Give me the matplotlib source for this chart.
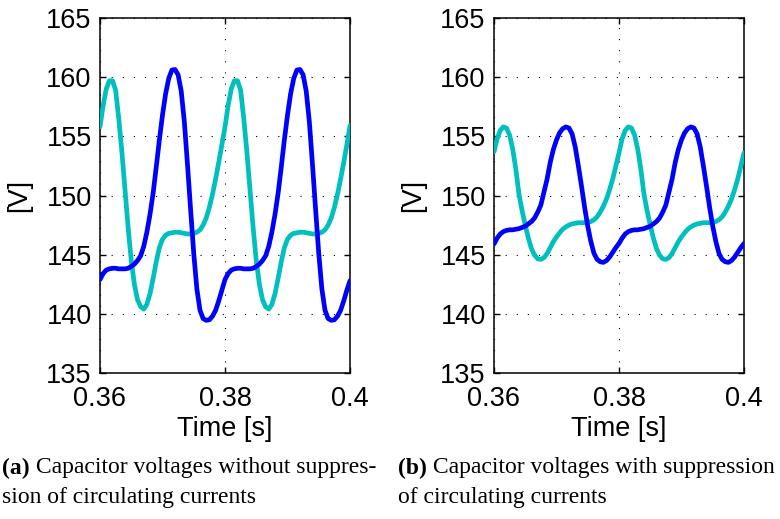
import numpy as np
import matplotlib
matplotlib.use("Agg")
import matplotlib.pyplot as plt

# time axis (s), sampled every 0.5 ms
time_s = [round(0.36 + 0.0005 * i, 4) for i in range(81)]

# (a) without suppression of circulating currents
va_cyan = [155.8, 157.6, 159.0, 159.7, 159.7, 158.9, 156.5, 153.7, 150.5, 147.3,
           144.5, 142.5, 141.2, 140.6, 140.4, 140.8, 141.7, 143.0, 144.4, 145.6,
           146.3, 146.65, 146.8, 146.85, 146.9, 146.9, 146.85, 146.8, 146.75, 146.75,
           146.8, 146.9, 147.1, 147.5, 148.1, 149.0, 150.1, 151.4, 152.8, 154.3,
           155.8, 157.6, 159.0, 159.7, 159.7, 158.9, 156.5, 153.7, 150.5, 147.3,
           144.5, 142.5, 141.2, 140.6, 140.4, 140.8, 141.7, 143.0, 144.4, 145.6,
           146.3, 146.65, 146.8, 146.85, 146.9, 146.9, 146.85, 146.8, 146.75, 146.75,
           146.8, 146.9, 147.1, 147.5, 148.1, 149.0, 150.1, 151.4, 152.8, 154.3,
           155.9]
va_blue = [142.9, 143.4, 143.7, 143.8, 143.85, 143.85, 143.8, 143.8, 143.8, 143.85,
           144.0, 144.2, 144.5, 144.9, 145.7, 146.9, 148.4, 150.2, 152.4, 154.7,
           156.8, 158.6, 159.9, 160.6, 160.65, 160.2, 158.8, 156.2, 152.6, 148.8,
           145.1, 142.1, 140.3, 139.6, 139.45, 139.5, 139.8, 140.3, 141.1, 142.0,
           142.9, 143.4, 143.7, 143.8, 143.85, 143.85, 143.8, 143.8, 143.8, 143.85,
           144.0, 144.2, 144.5, 144.9, 145.7, 146.9, 148.4, 150.2, 152.4, 154.7,
           156.8, 158.6, 159.9, 160.6, 160.65, 160.2, 158.8, 156.2, 152.6, 148.8,
           145.1, 142.1, 140.3, 139.6, 139.45, 139.5, 139.8, 140.3, 141.1, 142.0,
           142.8]

# (b) with suppression of circulating currents
vb_cyan = [153.7, 154.8, 155.5, 155.8, 155.7, 155.1, 153.9, 152.2, 150.1, 148.7,
           147.5, 146.4, 145.5, 144.95, 144.65, 144.6, 144.75, 145.1, 145.6, 146.1,
           146.5, 146.85, 147.15, 147.35, 147.5, 147.6, 147.65, 147.7, 147.7, 147.7,
           147.75, 147.8, 147.95, 148.2, 148.6, 149.1, 149.7, 150.5, 151.4, 152.5,
           153.6, 154.8, 155.5, 155.8, 155.7, 155.1, 153.9, 152.2, 150.1, 148.7,
           147.5, 146.4, 145.5, 144.95, 144.65, 144.6, 144.75, 145.1, 145.6, 146.1,
           146.5, 146.85, 147.15, 147.35, 147.5, 147.6, 147.65, 147.7, 147.7, 147.7,
           147.75, 147.8, 147.95, 148.2, 148.6, 149.1, 149.7, 150.5, 151.4, 152.5,
           153.6]
vb_blue = [145.9, 146.4, 146.75, 146.95, 147.05, 147.1, 147.1, 147.15, 147.2, 147.3,
           147.4, 147.6, 147.8, 148.1, 148.6, 149.2, 150.3, 151.4, 152.8, 153.9,
           154.7, 155.3, 155.65, 155.8, 155.7, 155.2, 154.1, 152.5, 150.8, 149.0,
           147.4, 146.1, 145.1, 144.6, 144.4, 144.35, 144.5, 144.8, 145.2, 145.6,
           145.95, 146.4, 146.75, 146.95, 147.05, 147.1, 147.1, 147.15, 147.2, 147.3,
           147.4, 147.6, 147.8, 148.1, 148.6, 149.2, 150.3, 151.4, 152.8, 153.9,
           154.7, 155.3, 155.65, 155.8, 155.7, 155.2, 154.1, 152.5, 150.8, 149.0,
           147.4, 146.1, 145.1, 144.6, 144.4, 144.35, 144.5, 144.8, 145.2, 145.6,
           145.95]

x_ticks = [0.36, 0.38, 0.40]
x_ticklabels = ["0.36", "0.38", "0.4"]
y_ticks = [135, 140, 145, 150, 155, 160, 165]

caption_a = ["(a)", " Capacitor voltages without suppres-", "sion of circulating currents"]
caption_b = ["(b)", " Capacitor voltages with suppression", "of circulating currents"]

CYAN = (0.0, 0.75, 0.75)
BLUE = (0.0, 0.0, 1.0)
SANS = ["Liberation Sans", "DejaVu Sans"]
SERIF = ["Liberation Serif", "DejaVu Serif"]
FS = 19.5

fig = plt.figure(figsize=(7.8, 5.19), dpi=100)
W, H = 780, 519

def make_ax(x0, x1, y0, y1):
    return fig.add_axes([x0 / W, 1 - y1 / H, (x1 - x0) / W, (y1 - y0) / H])

axes = [make_ax(100, 350, 18, 373), make_ax(494, 744, 18, 373)]
data = [(va_cyan, va_blue), (vb_cyan, vb_blue)]

for ax, (cy, bl) in zip(axes, data):
    ax.plot(time_s, cy, color=CYAN, lw=3.4, solid_capstyle="round", zorder=3)
    ax.plot(time_s, bl, color=BLUE, lw=3.4, solid_capstyle="round", zorder=4)
    ax.set_xlim(0.36, 0.40)
    ax.set_ylim(135, 165)
    ax.set_xticks(x_ticks)
    ax.set_xticklabels(x_ticklabels)
    ax.set_yticks(y_ticks)
    ax.grid(True, color="black", linestyle=(0, (1, 9)), linewidth=0.8)
    ax.tick_params(axis="both", direction="in", length=4, width=1,
                   labelsize=FS, top=True, right=True)
    ax.tick_params(axis="x", pad=9.5)
    ax.tick_params(axis="y", pad=6)
    for lab in ax.get_xticklabels() + ax.get_yticklabels():
        lab.set_fontfamily(SANS)
    for s in ax.spines.values():
        s.set_linewidth(1.1)
    ax.set_xlabel("Time [s]", fontsize=FS, family=SANS, labelpad=3)
    ax.set_ylabel("[V]", fontsize=FS, family=SANS, labelpad=10)

# captions
fig.canvas.draw()
renderer = fig.canvas.get_renderer()

def caption(x, parts):
    t1 = fig.text(x / W, 1 - 468 / H, parts[0], fontsize=17, family=SERIF,
                  fontweight="bold", va="center", ha="left")
    ext = t1.get_window_extent(renderer)
    fig.text(ext.x1 / W, 1 - 468 / H, parts[1], fontsize=17, family=SERIF,
             va="center", ha="left")
    fig.text(x / W, 1 - 497 / H, parts[2], fontsize=17, family=SERIF,
             va="center", ha="left")

caption(2, caption_a)
caption(398, caption_b)

fig.savefig("out.png", dpi=100)
